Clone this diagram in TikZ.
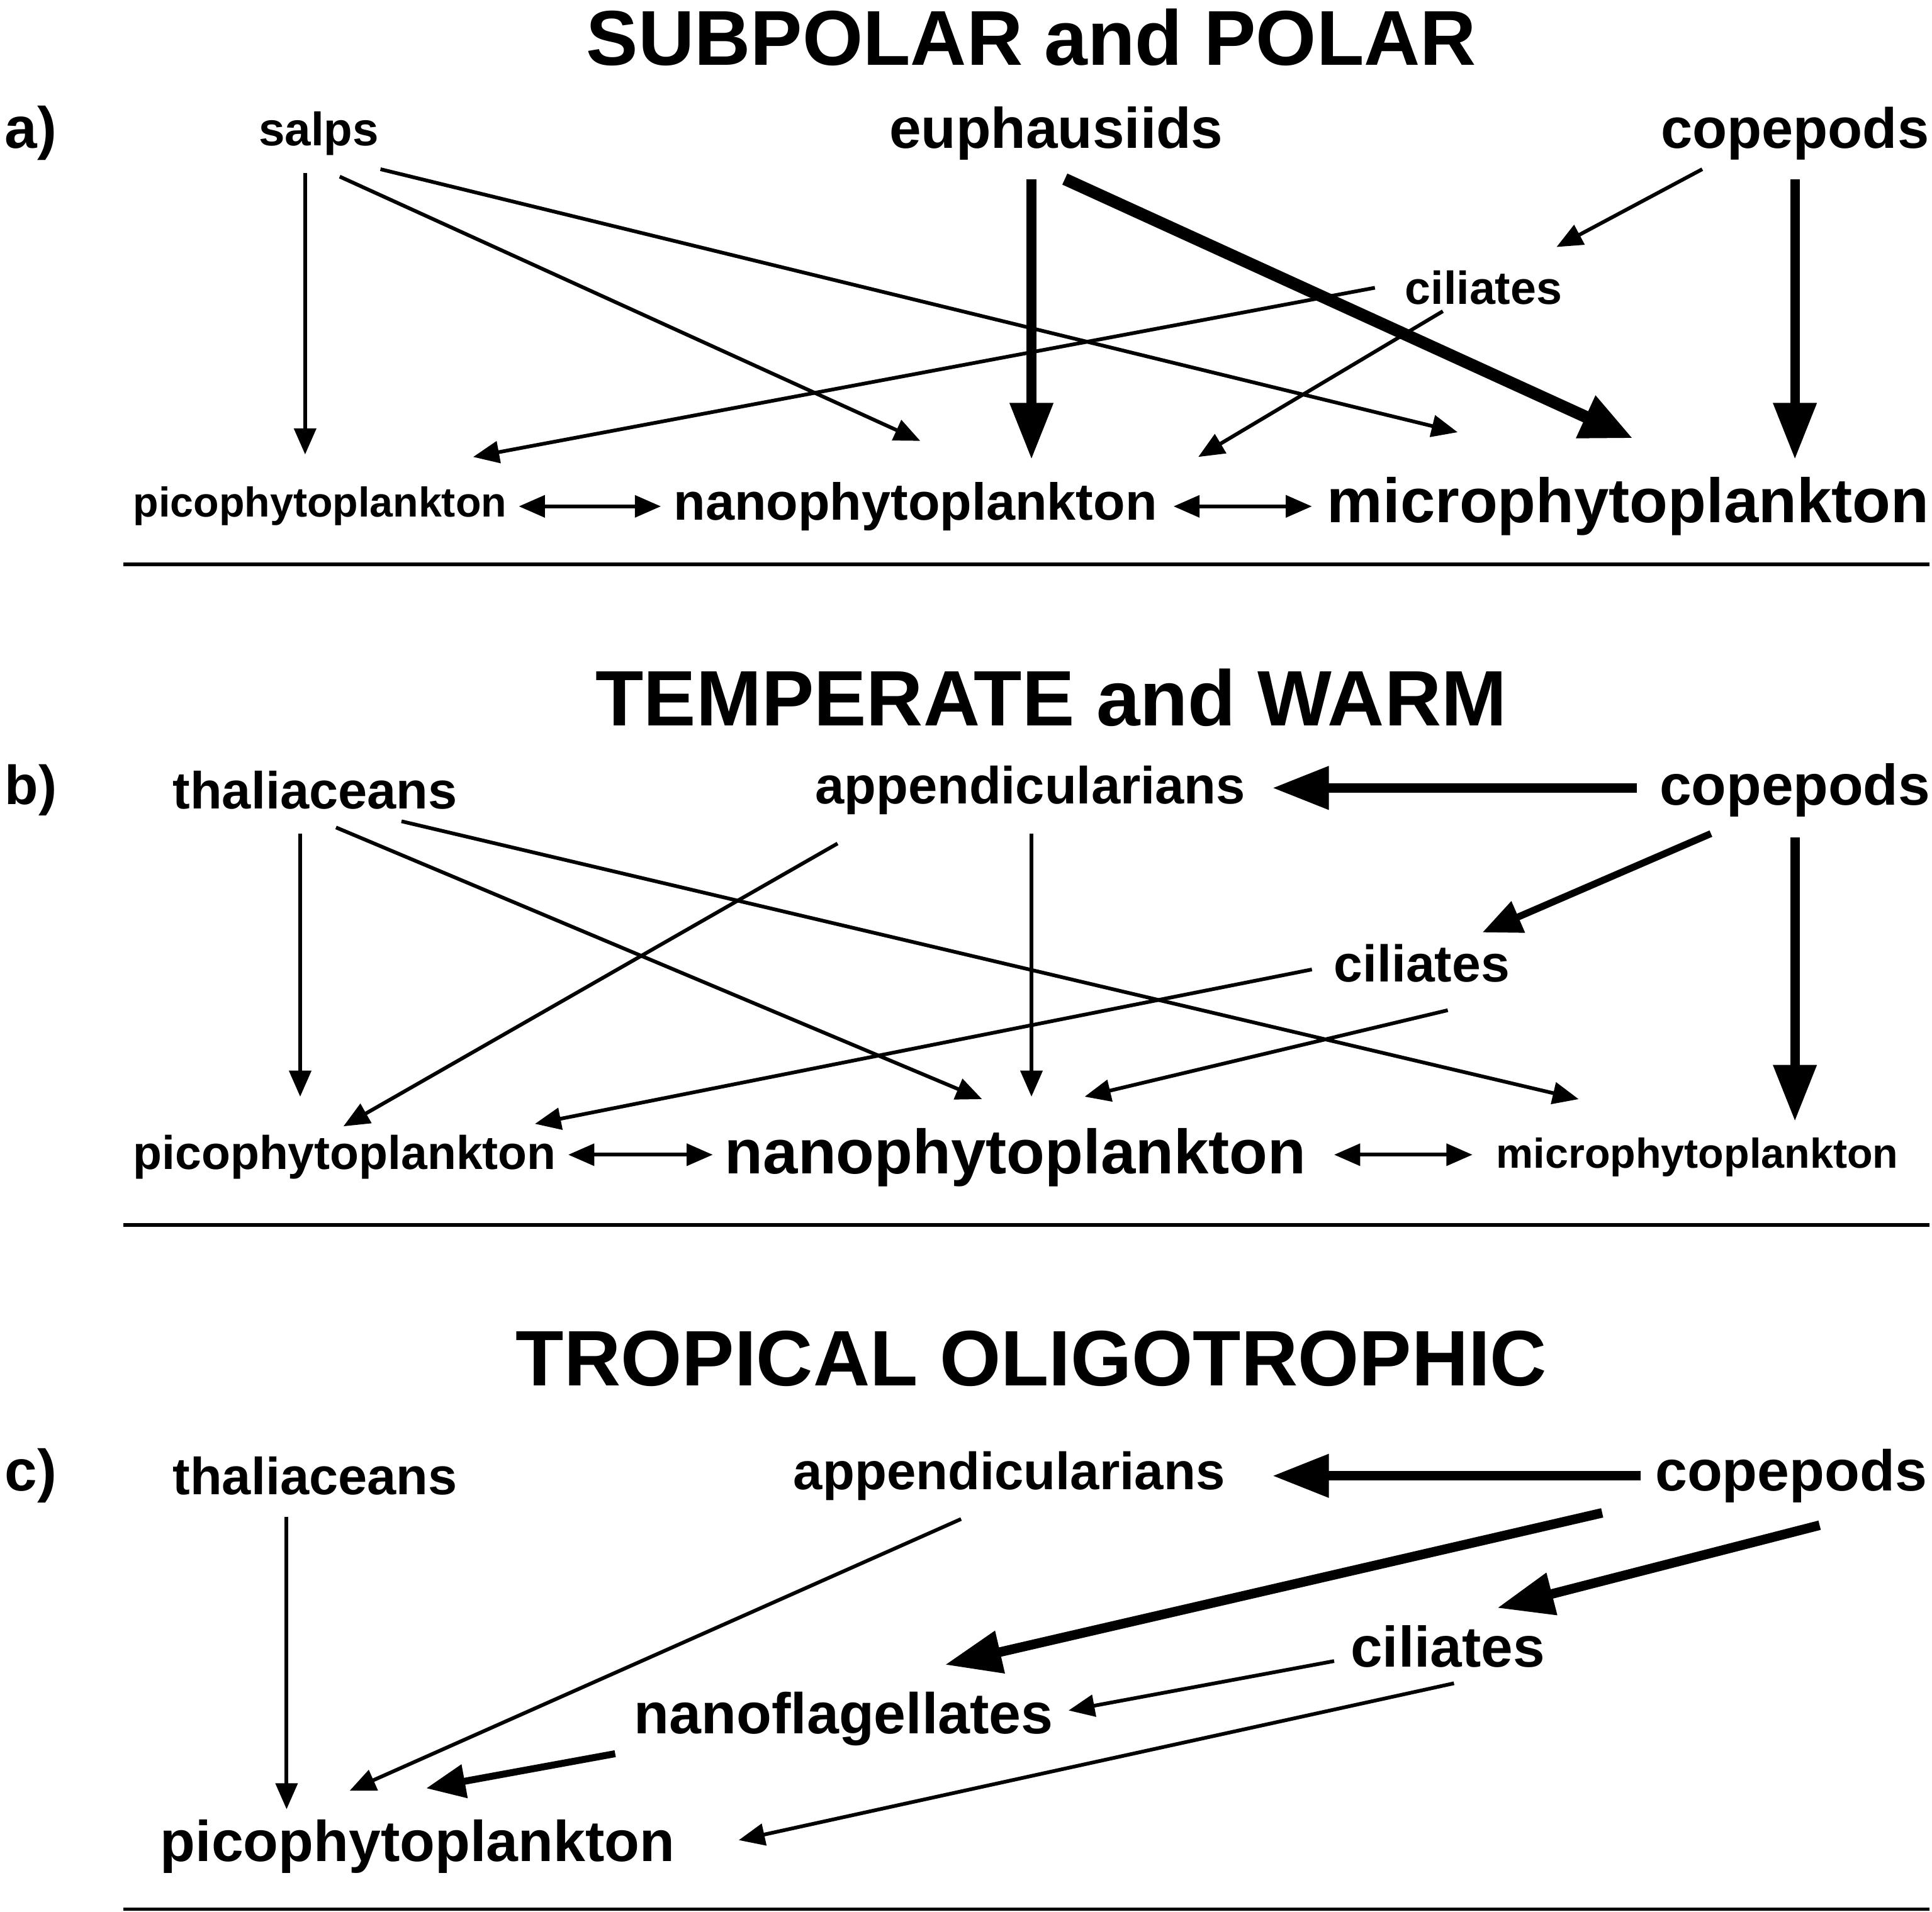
\documentclass[tikz,border=0pt]{standalone}
\usepackage{fontspec}
\setmainfont{Liberation Sans}
\usetikzlibrary{arrows.meta}
\newcommand{\wt}[2]{\resizebox{#1}{!}{\bfseries #2}}
\begin{document}
\begin{tikzpicture}[x=0.01cm,y=-0.01cm,
  lbl/.style={inner sep=0pt,anchor=center},
  thin/.style={line width=0.85pt,-{Triangle[length=6pt,width=5pt]}},
  med/.style={line width=1.6pt,-{Triangle[length=9pt,width=7.5pt]}},
  thk/.style={line width=2.2pt,-{Triangle[length=13pt,width=9.5pt]}},
  thkk/.style={line width=2.8pt,-{Triangle[length=12pt,width=10pt]}},
  dbl/.style={line width=0.85pt,{Triangle[length=6pt,width=5pt]}-{Triangle[length=6pt,width=5pt]}},
  sep/.style={line width=0.8pt}]
\useasboundingbox (0,0) rectangle (1564,1548);
% a)
\node[lbl] (ta) at (835,30) {\wt{7.20cm}{SUBPOLAR and POLAR}};
\node[lbl] (la) at (25,108) {\wt{0.42cm}{a)}};
\node[lbl] (sa) at (258,108) {\wt{0.97cm}{salps}};
\node[lbl] (eu) at (855,108) {\wt{2.70cm}{euphausiids}};
\node[lbl] (coa) at (1453,108) {\wt{2.17cm}{copepods}};
\node[lbl] (cia) at (1201,233) {\wt{1.27cm}{ciliates}};
\node[lbl] (pia) at (259,410) {\wt{3.02cm}{picophytoplankton}};
\node[lbl] (naa) at (741,410) {\wt{3.91cm}{nanophytoplankton}};
\node[lbl] (mia) at (1318,410) {\wt{4.87cm}{microphytoplankton}};
\draw[thin] (247,140) -- (247,368);
\draw[thin] (275,143) -- (745,357);
\draw[thin] (308,137) -- (1180,350);
\draw[thk] (835,145) -- (835,372);
\draw[thkk] (862,145) -- (1322,355);
\draw[thin] (1378,137) -- (1260,200);
\draw[thk] (1453,145) -- (1453,372);
\draw[thin] (1113,233) -- (383,370);
\draw[thin] (1168,252) -- (970,370);
\draw[dbl] (420,410) -- (535,410);
\draw[dbl] (950,410) -- (1062,410);
\draw[sep] (100,457) -- (1562,457);
% b)
\node[lbl] (tb) at (851,565) {\wt{7.37cm}{TEMPERATE and WARM}};
\node[lbl] (lb) at (25,640) {\wt{0.42cm}{b)}};
\node[lbl] (thb) at (255,640) {\wt{2.30cm}{thaliaceans}};
\node[lbl] (apb) at (834,640) {\wt{3.48cm}{appendicularians}};
\node[lbl] (cob) at (1453,640) {\wt{2.19cm}{copepods}};
\node[lbl] (cib) at (1151,780) {\wt{1.42cm}{ciliates}};
\node[lbl] (pib) at (279,937) {\wt{3.42cm}{picophytoplankton}};
\node[lbl] (nab) at (822,937) {\wt{4.70cm}{nanophytoplankton}};
\node[lbl] (mib) at (1374,937) {\wt{3.25cm}{microphytoplankton}};
\draw[thk] (1325,638) -- (1030,638);
\draw[thin] (243,675) -- (243,888);
\draw[thin] (272,670) -- (795,890);
\draw[thin] (325,665) -- (1278,890);
\draw[thin] (678,683) -- (278,912);
\draw[thin] (835,675) -- (835,888);
\draw[med] (1385,675) -- (1200,755);
\draw[thk] (1453,678) -- (1453,908);
\draw[thin] (1062,785) -- (433,910);
\draw[thin] (1172,818) -- (878,888);
\draw[dbl] (460,935) -- (577,935);
\draw[dbl] (1080,935) -- (1192,935);
\draw[sep] (100,992) -- (1562,992);
% c)
\node[lbl] (tc) at (835,1100) {\wt{8.34cm}{TROPICAL OLIGOTROPHIC}};
\node[lbl] (lc) at (25,1195) {\wt{0.42cm}{c)}};
\node[lbl] (thc) at (255,1195) {\wt{2.30cm}{thaliaceans}};
\node[lbl] (apc) at (817,1195) {\wt{3.49cm}{appendicularians}};
\node[lbl] (coc) at (1450,1195) {\wt{2.20cm}{copepods}};
\node[lbl] (cic) at (1172,1333) {\wt{1.57cm}{ciliates}};
\node[lbl] (nfc) at (683,1392) {\wt{3.39cm}{nanoflagellates}};
\node[lbl] (pic) at (338,1495) {\wt{4.16cm}{picophytoplankton}};
\draw[thk] (1328,1195) -- (1030,1195);
\draw[thk] (1297,1225) -- (765,1348);
\draw[thk] (1473,1235) -- (1212,1302);
\draw[thin] (232,1228) -- (232,1465);
\draw[thin] (778,1230) -- (283,1450);
\draw[thin] (1080,1345) -- (865,1385);
\draw[thin] (1177,1363) -- (598,1490);
\draw[med] (498,1420) -- (345,1448);
\draw[sep] (100,1546) -- (1562,1546);
\end{tikzpicture}
\end{document}
